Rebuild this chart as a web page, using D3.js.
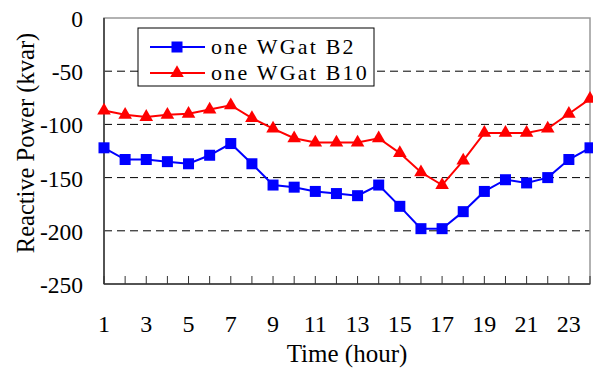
<!DOCTYPE html>
<html>
<head>
<meta charset="utf-8">
<script src="https://cdn.jsdelivr.net/npm/d3@7"></script>
</head>
<body style="margin:0">
<svg id="chart" width="593" height="370"></svg>
<script>
// hours 1..24
var hours = d3.range(1, 25);
var seriesNames = ["one WGat B2", "one WGat B10"];
var b2Values = [-122, -133, -133, -135, -137, -129, -118, -137, -157, -159, -163, -165,
                -167, -157, -177, -198, -198, -182, -163, -152, -155, -150, -133, -122];
var b10Values = [-87, -91, -93, -91, -90, -86, -82, -94, -104, -113, -117, -117,
                 -117, -113, -127, -145, -157, -134, -108, -108, -108, -104, -90, -76];
var yTicks = [0, -50, -100, -150, -200, -250];
var xTickLabels = [1, 3, 5, 7, 9, 11, 13, 15, 17, 19, 21, 23];

var width = 593, height = 370;
var margin = {left: 104, top: 18, right: 3, bottom: 86};
var serif = "'Liberation Serif'";

var svg = d3.select("#chart");

var x = d3.scaleLinear().domain([1, 24]).range([margin.left, width - margin.right]);
var y = d3.scaleLinear().domain([-250, 0]).range([height - margin.bottom, margin.top]);

// dashed gridlines
svg.append("g").selectAll("line")
    .data(yTicks.filter(function(d) { return d !== 0 && d !== -250; }))
    .enter().append("line")
    .attr("x1", x(1)).attr("x2", x(24))
    .attr("y1", function(d) { return y(d); })
    .attr("y2", function(d) { return y(d); })
    .attr("stroke", "#000")
    .attr("stroke-width", 1)
    .attr("stroke-dasharray", "8,5");

// plot border
svg.append("rect")
    .attr("x", x(1)).attr("y", y(0))
    .attr("width", x(24) - x(1))
    .attr("height", y(-250) - y(0))
    .attr("fill", "none")
    .attr("stroke", "#999")
    .attr("stroke-width", 1.5);

// axes lines
svg.append("line")
    .attr("x1", x(1)).attr("x2", x(1))
    .attr("y1", y(0)).attr("y2", y(-250))
    .attr("stroke", "#333").attr("stroke-width", 1.5);
svg.append("line")
    .attr("x1", x(1)).attr("x2", x(24))
    .attr("y1", y(-250)).attr("y2", y(-250))
    .attr("stroke", "#333").attr("stroke-width", 1.5);

// bottom ticks, pointing in
svg.append("g").selectAll("line")
    .data(hours)
    .enter().append("line")
    .attr("x1", function(d) { return x(d); })
    .attr("x2", function(d) { return x(d); })
    .attr("y1", y(-250)).attr("y2", y(-250) - 8)
    .attr("stroke", "#333").attr("stroke-width", 1);

// y tick labels
svg.append("g").selectAll("text")
    .data(yTicks)
    .enter().append("text")
    .attr("x", 83)
    .attr("y", function(d) { return y(d) + 9; })
    .attr("text-anchor", "end")
    .attr("font-size", 23.5)
    .style("font-family", serif)
    .text(function(d) { return d; });

// x tick labels
svg.append("g").selectAll("text")
    .data(xTickLabels)
    .enter().append("text")
    .attr("x", function(d) { return x(d); })
    .attr("y", 332)
    .attr("text-anchor", "middle")
    .attr("font-size", 24)
    .style("font-family", serif)
    .text(function(d) { return d; });

// axis titles
svg.append("text")
    .attr("x", 347).attr("y", 362)
    .attr("text-anchor", "middle")
    .attr("font-size", 25)
    .style("font-family", serif)
    .text("Time (hour)");

svg.append("text")
    .attr("transform", "translate(34,143) rotate(-90)")
    .attr("text-anchor", "middle")
    .attr("font-size", 24.5)
    .style("font-family", serif)
    .text("Reactive Power (kvar)");

var line = d3.line()
    .x(function(d, i) { return x(hours[i]); })
    .y(function(d) { return y(d); });

var tri = d3.symbol().type(d3.symbolTriangle).size(80);

// blue series
svg.append("path")
    .attr("d", line(b2Values))
    .attr("fill", "none")
    .attr("stroke", "#0000ff")
    .attr("stroke-width", 2);
svg.append("g").selectAll("rect")
    .data(b2Values)
    .enter().append("rect")
    .attr("x", function(d, i) { return x(hours[i]) - 5.5; })
    .attr("y", function(d) { return y(d) - 5.5; })
    .attr("width", 11).attr("height", 11)
    .attr("fill", "#0000ff");

// red series
svg.append("path")
    .attr("d", line(b10Values))
    .attr("fill", "none")
    .attr("stroke", "#ff0000")
    .attr("stroke-width", 2);
svg.append("g").selectAll("path")
    .data(b10Values)
    .enter().append("path")
    .attr("d", tri)
    .attr("transform", function(d, i) { return "translate(" + x(hours[i]) + "," + y(d) + ")"; })
    .attr("fill", "#ff0000");

// legend
var legend = svg.append("g");
legend.append("rect")
    .attr("x", 138).attr("y", 28)
    .attr("width", 236).attr("height", 58)
    .attr("fill", "#fff")
    .attr("stroke", "#000")
    .attr("stroke-width", 1);

var rows = [47, 73];
// blue entry
legend.append("line")
    .attr("x1", 150).attr("x2", 205)
    .attr("y1", rows[0]).attr("y2", rows[0])
    .attr("stroke", "#0000ff").attr("stroke-width", 2);
legend.append("rect")
    .attr("x", 171.5).attr("y", rows[0] - 5.5)
    .attr("width", 11).attr("height", 11)
    .attr("fill", "#0000ff");
// red entry
legend.append("line")
    .attr("x1", 150).attr("x2", 205)
    .attr("y1", rows[1]).attr("y2", rows[1])
    .attr("stroke", "#ff0000").attr("stroke-width", 2);
legend.append("path")
    .attr("d", tri)
    .attr("transform", "translate(177," + rows[1] + ")")
    .attr("fill", "#ff0000");

legend.selectAll("text.lbl")
    .data(seriesNames)
    .enter().append("text")
    .attr("class", "lbl")
    .attr("x", 211)
    .attr("y", function(d, i) { return rows[i] + 7; })
    .attr("font-size", 22)
    .attr("letter-spacing", 2.2)
    .style("font-family", serif)
    .text(function(d) { return d; });
</script>
</body>
</html>
